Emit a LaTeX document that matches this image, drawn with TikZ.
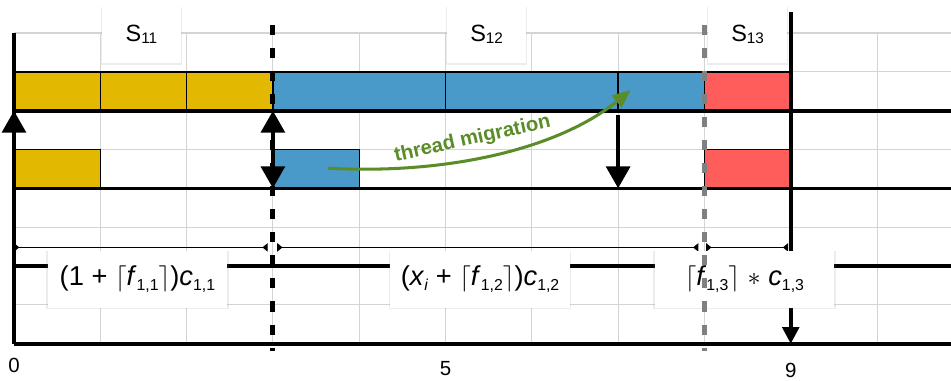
\documentclass[tikz,border=0pt]{standalone}
\usepackage{fontspec}
\setmainfont{Liberation Sans}
\usepackage{graphicx}
\usepackage{tikz}
\usetikzlibrary{arrows.meta,shadows}
\definecolor{slotgold}{RGB}{226,184,0}
\definecolor{slotblue}{RGB}{73,154,201}
\definecolor{slotred}{RGB}{255,92,92}
\definecolor{migreen}{RGB}{90,140,40}
\definecolor{gridgray}{RGB}{212,212,212}
\definecolor{cutgray}{RGB}{128,128,128}
\newcommand{\lowidx}[2][-0.17em]{\raisebox{#1}{\scalebox{0.58}{#2}}}

\begin{document}
\begin{tikzpicture}[
  x=2cm, y=0.9cm,
  >={Triangle[length=14.5pt, width=15.5pt]},
  gridline/.style={draw=gridgray, line width=0.7pt},
  axisline/.style={line width=2.4pt},
  block/.style={draw=black, line width=0.9pt},
  bigarrow/.style={line width=3pt},
  span/.style={line width=0.7pt,
    {Triangle[reversed, length=3.5pt, width=5.5pt]}-{Triangle[reversed, length=3.5pt, width=5.5pt]}},
  cut/.style={line width=3.2pt, dash pattern=on 6.6pt off 8.6pt},
  card/.style={fill=white, inner sep=0pt,
    drop shadow={shadow xshift=0pt, shadow yshift=-0.8pt, shadow scale=1.02, opacity=0.15}},
  slot/.style={card, minimum width=1.84cm, minimum height=1.32cm,
    font=\fontsize{15.5}{18}\selectfont},
  cost/.style={card, minimum width=4.15cm, minimum height=1.32cm,
    font=\fontsize{18}{21}\selectfont},
  ticklabel/.style={font=\fontsize{13.5}{16}\selectfont},
  migrate/.style={draw=migreen, line width=2pt,
    -{Triangle[length=12pt, width=10pt]}}
]
  \useasboundingbox (-0.162,-0.952) rectangle (10.857,8.85);

  \foreach \x in {1,...,10}
    \draw[gridline] (\x,0) -- (\x,8);
  \foreach \y in {1,...,8}
    \draw[gridline] (0,\y) -- (10.857,\y);

  \foreach \a/\b/\c in {0/1/slotgold,1/2/slotgold,2/3/slotgold,3/5/slotblue,
                        5/7/slotblue,7/8/slotblue,8/9/slotred}
    \filldraw[block, fill=\c] (\a,6) rectangle (\b,7);
  \foreach \a/\b/\c in {0/1/slotgold,3/4/slotblue,8/9/slotred}
    \filldraw[block, fill=\c] (\a,4) rectangle (\b,5);

  \foreach \y in {0,2,4,6}
    \draw[axisline] (0,\y) -- (10.857,\y);
  \draw[axisline] (0,0) -- (0,8);

  \coordinate (d0) at (0,2.48);
  \coordinate (d3l) at (2.94,2.48);
  \coordinate (d3r) at (3.05,2.48);
  \coordinate (d8l) at (7.93,2.48);
  \coordinate (d8r) at (8.02,2.48);
  \coordinate (d9) at (8.97,2.48);
  \draw[span] (d0) -- (d3l);
  \draw[span] (d3r) -- (d8l);
  \draw[span, line width=1pt] (d8r) -- (d9);

  \coordinate (up0) at (0,4);
  \coordinate (top0) at (0,6);
  \coordinate (low3) at (3,4);
  \coordinate (high3) at (3,6);
  \coordinate (from7) at (7,5.88);
  \coordinate (to7) at (7,4);
  \coordinate (from9) at (9,8.54);
  \coordinate (to9) at (9,0);
  \draw[bigarrow, ->] (up0) -- (top0);
  \draw[bigarrow, <->] (low3) -- (high3);
  \draw[bigarrow, ->] (from7) -- (to7);
  \draw[axisline, -{Triangle[length=11pt, width=11pt]}] (from9) -- (to9);

  \node[slot] (s11) at (1.477,7.965) {S\lowidx[-0.05em]{\scalebox{1.12}{11}}};
  \node[slot] (s12) at (5.476,7.965) {S\lowidx[-0.05em]{\scalebox{1.12}{12}}};
  \node[slot] (s13) at (8.50,7.965) {S\lowidx[-0.05em]{\scalebox{1.12}{13}}};

  \node[cost] (cost1) at (1.43,1.665)
    {(1 + $\lceil$\textit{f}\lowidx{1,1}$\rceil$)\textit{c}\lowidx{1,1}};
  \node[cost] (cost2) at (5.40,1.665)
    {(\textit{x}\lowidx{\textit{i}} + $\lceil$\textit{f}\lowidx{1,2}$\rceil$)\textit{c}\lowidx{1,2}};
  \node[cost] (cost3) at (8.463,1.665)
    {$\lceil$\textit{f}\lowidx{1,3}$\rceil$ $\ast$ \textit{c}\lowidx{1,3}};

  \coordinate (cut3top) at (3,8.21);
  \coordinate (cut3bot) at (3,-0.18);
  \coordinate (cut8top) at (8,8.21);
  \coordinate (cut8bot) at (8,-0.18);
  \draw[cut] (cut3top) -- (cut3bot);
  \draw[cut, draw=cutgray] (cut8top) -- (cut8bot);

  \node[ticklabel] (t0) at (0,-0.57) {0};
  \node[ticklabel] (t5) at (5,-0.64) {5};
  \node[ticklabel] (t9) at (9,-0.70) {9};

  \coordinate (mfrom) at (3.64,4.52);
  \coordinate (mto) at (7.146,6.53);
  \draw[migrate] (mfrom) .. controls (5.0,4.35) and (6.3,5.0) .. (mto);
  \node[text=migreen, rotate=12.5, font=\fontsize{13.3}{16}\selectfont\bfseries]
    (mlabel) at (5.313,5.265) {thread migration};
\end{tikzpicture}
\end{document}
